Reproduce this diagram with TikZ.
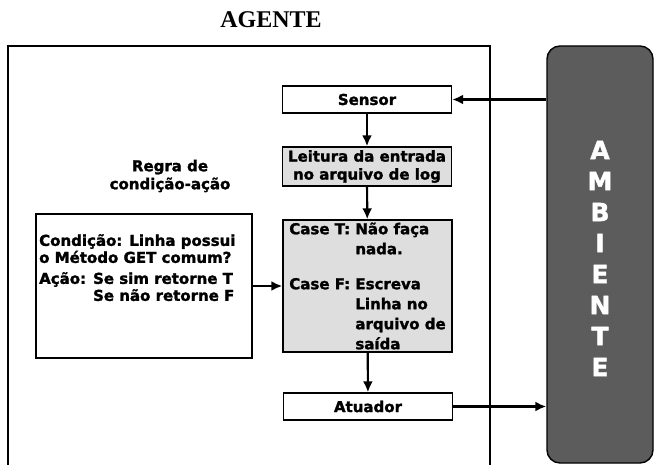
\documentclass[tikz,border=0pt]{standalone}
\usepackage{fontspec}
\usepackage{xcolor}
\usetikzlibrary{positioning, arrows.meta, calc}
\newfontfamily\boxfont{DejaVu Sans}[BoldFeatures={FakeBold=1.6}]
\newfontfamily\titlefont{Liberation Serif}
\definecolor{speckle}{HTML}{DEDEDE}
\definecolor{ambient}{HTML}{5C5C5C}

\begin{document}
\begin{tikzpicture}[
    x=1pt, y=-1pt,
    box/.style={rectangle, draw=black, line width=1.4pt, fill=white, text=black,
                minimum width=169pt, minimum height=27pt, inner sep=0pt,
                align=center, font=\boxfont\bfseries\fontsize{15}{18}\selectfont},
    shadedbox/.style={box, fill=speckle},
    arrow/.style={-{Latex[length=11pt, width=10pt]}, line width=2.2pt},
    caption/.style={font=\boxfont\bfseries\fontsize{15}{18}\selectfont, align=center, inner sep=0pt},
    ambletter/.style={font=\boxfont\bfseries\fontsize{25}{25}\selectfont, inner sep=0pt, text=white}
  ]
    \useasboundingbox (0,0) rectangle (654,465);
    \node[font=\titlefont\bfseries\fontsize{24}{28}\selectfont, inner sep=0pt] (title) at (271,20) {AGENTE};

    % agent frame, open at the bottom
    \coordinate (frameSW) at (8,465);
    \coordinate (frameNW) at (8,46);
    \coordinate (frameNE) at (490,46);
    \coordinate (frameSE) at (490,465);
    \draw[line width=1.4pt] (frameSW) -- (frameNW) -- (frameNE) -- (frameSE);

    \node[box] (sensor) at (367,99.5) {Sensor};
    \node[shadedbox, minimum height=39pt] (leitura) at (367,166.5) {Leitura da entrada\\no arquivo de log};
    \node[shadedbox, minimum height=132pt, align=left,
          font=\boxfont\bfseries\fontsize{15}{20}\selectfont] (cases) at (367.5,286)
        {Case T: Não faça\\\phantom{Case T: }nada.\\[15pt]Case F: Escreva\\\phantom{Case F: }Linha no\\\phantom{Case F: }arquivo de\\\phantom{Case F: }saída};
    \node[box] (atuador) at (368,406.5) {Atuador};

    \node[caption] (ruletitle) at (170,176) {Regra de\\condição-ação};
    \node[box, minimum width=216pt, minimum height=144pt] (rule) at (144,286) {};
    \node[caption, align=left, anchor=west, font=\boxfont\bfseries\fontsize{15}{17}\selectfont] (ruletext) at (39,269)
        {Condição: Linha possui\\o Método GET comum?\\[4pt]Ação: Se sim retorne T\\\phantom{Ação: }Se não retorne F};

    % environment column
    \node[rectangle, rounded corners=13pt, draw=black, line width=1.4pt, fill=ambient,
          minimum width=106pt, minimum height=417pt] (ambiente) at (600,254.5) {};
    \foreach \ch [count=\i] in {A,M,B,I,E,N,T,E}
      \node[ambletter] (amb-\i) at (600,150+31*\i-31) {\ch};

    \draw[arrow] (ambiente.west |- sensor) -- (sensor.east);
    \draw[arrow] (sensor) -- (leitura);
    \draw[arrow] (leitura) -- (cases);
    \draw[arrow] (cases) -- (atuador);
    \draw[arrow] (rule.east) -- (cases.west);
    \draw[arrow] (atuador.east) -- (ambiente.west |- atuador);
\end{tikzpicture}
\end{document}
